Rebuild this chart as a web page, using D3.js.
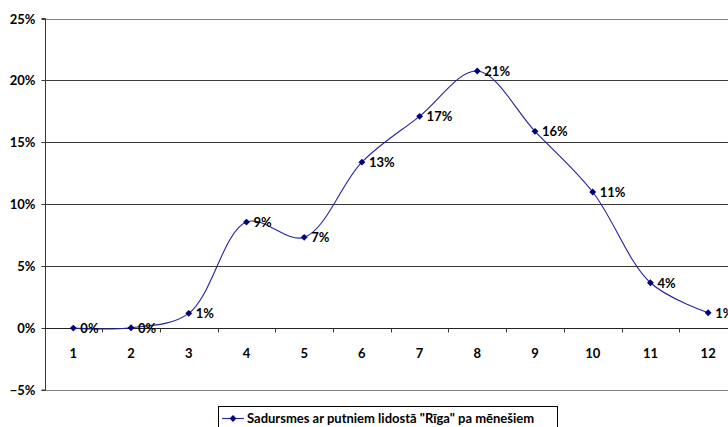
<!DOCTYPE html>
<html>
<head>
<meta charset="utf-8">
<script src="https://cdn.jsdelivr.net/npm/d3@7"></script>
<style>
  html, body { margin: 0; padding: 0; background: #fff; }
  svg { display: block; }
  text { font-family: Lato, "Open Sans", sans-serif; font-weight: bold; fill: #000; }
</style>
</head>
<body>
<svg id="chart" width="728" height="427"></svg>
<script>
// Monthly share of bird strikes at Riga airport
const months = ["1", "2", "3", "4", "5", "6", "7", "8", "9", "10", "11", "12"];
const shares = [0.0, 0.0003, 0.0119, 0.0856, 0.0733, 0.134, 0.171, 0.2076, 0.1589, 0.1099, 0.0366, 0.0124];
const yTicks = [-0.05, 0, 0.05, 0.10, 0.15, 0.20, 0.25];
const seriesName = "Sadursmes ar putniem lidostā \"Rīga\" pa mēnešiem";

const svg = d3.select("#chart");
const plotLeft = 44.5, plotRight = 737, plotTop = 18.5, plotBottom = 390;
const fontSize = "13px";

const x = d3.scaleBand().domain(months).range([plotLeft, plotRight]).padding(0);
const y = d3.scaleLinear().domain([-0.05, 0.25]).range([plotBottom, plotTop]);
const pct = d3.format(".0%");

// horizontal gridlines
svg.append("g").selectAll("line")
  .data(yTicks.filter(d => d > -0.05 && d < 0.25))
  .join("line")
  .attr("x1", plotLeft).attr("x2", 728)
  .attr("y1", d => Math.round(y(d)) + 0.5).attr("y2", d => Math.round(y(d)) + 0.5)
  .attr("stroke", "#3a3a3a").attr("stroke-width", 1);

// plot area border (top and bottom)
[0.25, -0.05].forEach(v => {
  svg.append("line")
    .attr("x1", plotLeft).attr("x2", 728)
    .attr("y1", Math.round(y(v)) + 0.5).attr("y2", Math.round(y(v)) + 0.5)
    .attr("stroke", "#808080").attr("stroke-width", 1);
});

// y axis
const yAxis = d3.axisLeft(y).tickValues(yTicks).tickFormat(pct).tickSize(4).tickPadding(6);
const gy = svg.append("g").attr("transform", `translate(${Math.round(plotLeft) + 0.5},0)`).call(yAxis);
gy.select(".domain").attr("stroke", "#3a3a3a").attr("d", `M-4,${y(0.25)}H0V${y(-0.05)}H-4`);
gy.selectAll(".tick line").attr("stroke", "#3a3a3a");
gy.selectAll(".tick text").style("font-size", fontSize).attr("fill", "#000");
gy.selectAll(".tick").attr("transform", d => `translate(0,${Math.round(y(d)) + 0.5})`);

// x axis on the zero line
const y0 = Math.round(y(0)) + 0.5;
const gx = svg.append("g").attr("transform", `translate(0,${y0})`);
gx.append("line").attr("x1", plotLeft).attr("x2", 728).attr("stroke", "#222");
gx.selectAll(".xt").data(months.slice(1)).join("line")
  .attr("class", "xt")
  .attr("x1", d => Math.round(x(d)) + 0.5).attr("x2", d => Math.round(x(d)) + 0.5)
  .attr("y1", 0).attr("y2", 4).attr("stroke", "#3a3a3a");
gx.selectAll("text").data(months).join("text")
  .attr("x", d => x(d) + x.bandwidth() / 2)
  .attr("y", 29)
  .attr("text-anchor", "middle")
  .style("font-size", fontSize)
  .text(d => d);

// smoothed series line
const pts = months.map((m, i) => ({ m, v: shares[i] }));
const line = d3.line()
  .x(d => x(d.m) + x.bandwidth() / 2)
  .y(d => y(d.v))
  .curve(d3.curveCatmullRom.alpha(0.5));
svg.append("path").datum(pts)
  .attr("d", line)
  .attr("fill", "none")
  .attr("stroke", "#22229f")
  .attr("stroke-width", 1.1);

// diamond markers
const diamond = d3.symbol().type(d3.symbolDiamond2).size(30);
svg.append("g").selectAll("path").data(pts).join("path")
  .attr("d", diamond)
  .attr("transform", d => `translate(${x(d.m) + x.bandwidth() / 2},${y(d.v)})`)
  .attr("fill", "#000080");

// value labels
svg.append("g").selectAll("text").data(pts).join("text")
  .attr("x", d => x(d.m) + x.bandwidth() / 2 + 7)
  .attr("y", d => y(d.v) + 5)
  .style("font-size", fontSize)
  .text(d => pct(d.v));

// legend
const lg = svg.append("g");
lg.append("rect").attr("x", 218.5).attr("y", 406.5).attr("width", 339).attr("height", 30)
  .attr("fill", "#fff").attr("stroke", "#000");
lg.append("line").attr("x1", 222).attr("x2", 244).attr("y1", 418.5).attr("y2", 418.5)
  .attr("stroke", "#22229f").attr("stroke-width", 1.1);
lg.append("path").attr("d", diamond).attr("transform", "translate(233,418.5)").attr("fill", "#000080");
lg.append("text").attr("x", 247).attr("y", 423).style("font-size", fontSize).text(seriesName);
</script>
</body>
</html>
